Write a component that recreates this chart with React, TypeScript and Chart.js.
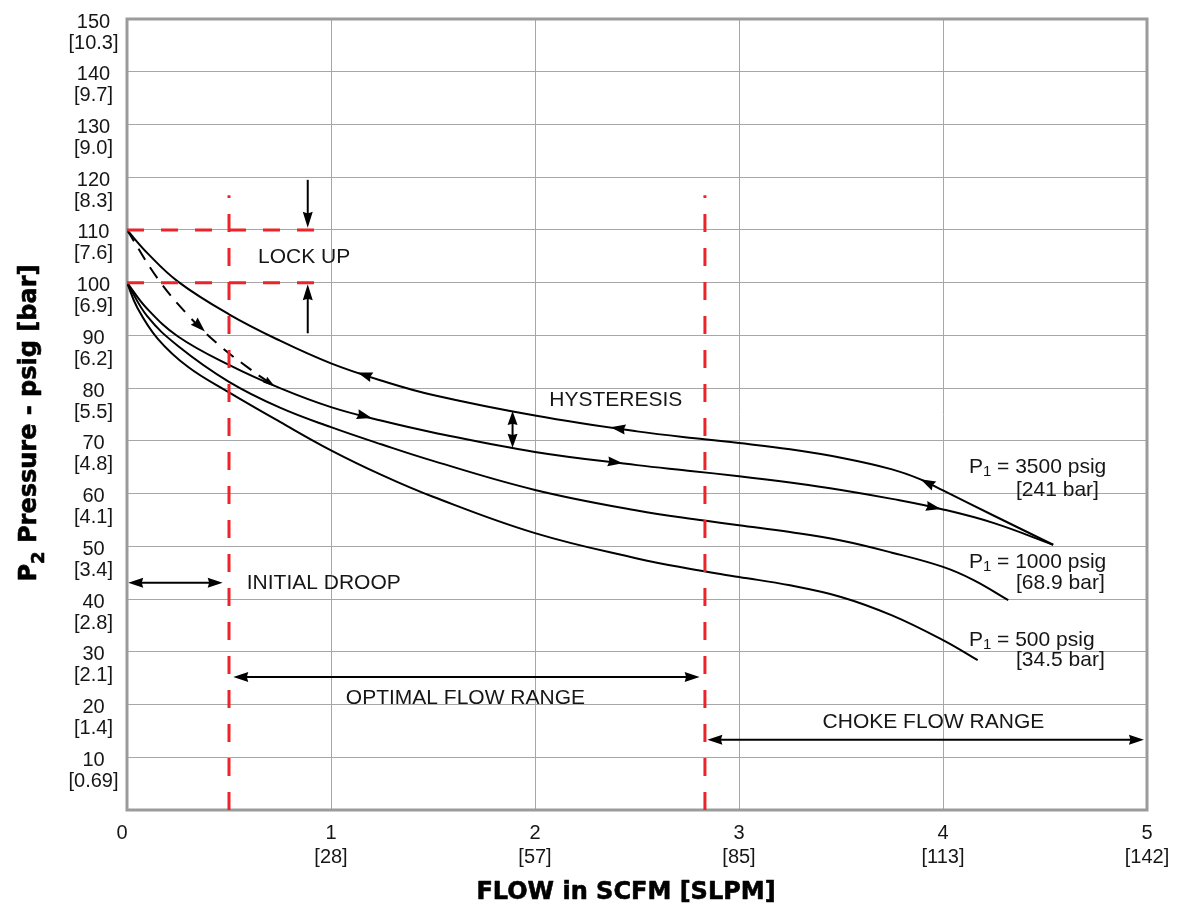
import { useEffect, useRef } from 'react';
import { Chart, registerables } from 'chart.js';

Chart.register(...registerables);

// ---------------- data ----------------
const X_TICK_VALUES = [0, 1, 2, 3, 4, 5];
const X_TICK_SCFM = ['0', '1', '2', '3', '4', '5'];
const X_TICK_SLPM = ['', '[28]', '[57]', '[85]', '[113]', '[142]'];

const Y_TICK_VALUES = [10, 20, 30, 40, 50, 60, 70, 80, 90, 100, 110, 120, 130, 140, 150];
const Y_TICK_BAR = ['[0.69]', '[1.4]', '[2.1]', '[2.8]', '[3.4]', '[4.1]', '[4.8]', '[5.5]', '[6.2]', '[6.9]', '[7.6]', '[8.3]', '[9.0]', '[9.7]', '[10.3]'];

// P1 = 3500 psig, decreasing-flow (return) branch
const RETURN_3500_X = [0, 0.1, 0.25, 0.5, 0.75, 1.0, 1.25, 1.5, 2.0, 2.5, 2.83, 3.0, 3.25, 3.5, 3.75, 3.89, 4.0, 4.25, 4.54];
const RETURN_3500_Y = [110, 105.6, 100.2, 94.0, 89.0, 84.7, 81.4, 78.7, 74.8, 71.8, 70.3, 69.6, 68.4, 66.8, 64.6, 62.7, 60.6, 55.8, 50.3];

// P1 = 3500 psig, increasing-flow (forward) branch
const FORWARD_3500_X = [0, 0.1, 0.25, 0.5, 0.75, 1.0, 1.25, 1.5, 2.0, 2.5, 2.75, 3.0, 3.25, 3.5, 3.75, 4.0, 4.25, 4.54];
const FORWARD_3500_Y = [100, 95.0, 89.8, 84.4, 80.0, 76.4, 73.8, 71.6, 67.9, 65.4, 64.35, 63.3, 62.1, 60.7, 59.0, 57.0, 54.4, 50.3];

// P1 = 1000 psig
const P1000_X = [0, 0.1, 0.25, 0.5, 0.75, 1.0, 1.25, 1.5, 2.0, 2.5, 2.83, 3.0, 3.25, 3.5, 3.75, 4.0, 4.15, 4.32];
const P1000_Y = [100, 93.6, 88.0, 81.2, 76.3, 72.6, 69.3, 66.2, 60.7, 56.8, 54.9, 54.0, 52.7, 51.1, 48.8, 46.1, 43.6, 39.8];

// P1 = 500 psig
const P500_X = [0, 0.05, 0.15, 0.3, 0.5, 0.75, 1.0, 1.25, 1.5, 2.0, 2.5, 2.75, 3.0, 3.25, 3.5, 3.75, 4.0, 4.17];
const P500_Y = [100, 95.3, 89.4, 84.0, 79.2, 73.6, 68.2, 63.5, 59.4, 52.5, 47.7, 45.8, 44.2, 42.6, 40.4, 36.9, 32.2, 28.4];

// dashed lock-up release path
const RELEASE_X = [0, 0.15, 0.3, 0.45, 0.6, 0.725];
const RELEASE_Y = [110, 100.8, 93.8, 88.2, 83.7, 80.3];

// reference (red dashed) lines
const LOCKUP_LEVELS = [110, 100];
const LOCKUP_FLOW_END = 0.917;
const FLOW_LIMITS = [0.5, 2.833];
const FLOW_LIMIT_TOP = 116.6;

// ---------------- styles / annotation layout ----------------
const RED = '#ec2329';
const GRID = '#a7a7a7';
const FRAME = '#9b9b9b';
const INK = '#161616';
const FONT = '"Liberation Sans", Arial, Helvetica, sans-serif';
const HEAVY = '"DejaVu Sans", "Liberation Sans", sans-serif';

const TEXT_LABELS = [
  { text: 'LOCK UP', x: 0.642, y: 104.9, align: 'left' },
  { text: 'HYSTERESIS', x: 2.07, y: 77.7, align: 'left' },
  { text: 'INITIAL DROOP', x: 0.587, y: 43.0, align: 'left' },
  { text: 'OPTIMAL FLOW RANGE', x: 1.659, y: 21.2, align: 'center' },
  { text: 'CHOKE FLOW RANGE', x: 3.953, y: 16.6, align: 'center' },
];

const P1_LABELS = [
  { rest: ' = 3500 psig', bar: '[241 bar]', x: 4.127, y: 65.0, xb: 4.358, yb: 60.7 },
  { rest: ' = 1000 psig', bar: '[68.9 bar]', x: 4.127, y: 47.0, xb: 4.358, yb: 43.0 },
  { rest: ' = 500 psig', bar: '[34.5 bar]', x: 4.127, y: 32.2, xb: 4.358, yb: 28.5 },
];

const DOUBLE_ARROWS = [
  { x1: 0.006, y1: 43.1, x2: 0.469, y2: 43.1 },
  { x1: 0.521, y1: 25.2, x2: 2.807, y2: 25.2 },
  { x1: 2.845, y1: 13.3, x2: 4.985, y2: 13.3 },
];

const SINGLE_ARROWS = [
  { x1: 0.886, y1: 119.5, x2: 0.886, y2: 110.4 },
  { x1: 0.886, y1: 90.4, x2: 0.886, y2: 99.7 },
];

const SERIES: Record<string, [number[], number[]]> = {
  ret: [RETURN_3500_X, RETURN_3500_Y],
  fwd: [FORWARD_3500_X, FORWARD_3500_Y],
  rel: [RELEASE_X, RELEASE_Y],
};

const CURVE_ARROWS = [
  { s: 'ret', x: 1.13, dir: -1, len: 15, hw: 5 },
  { s: 'ret', x: 2.37, dir: -1, len: 15, hw: 5 },
  { s: 'ret', x: 3.89, dir: -1, len: 15, hw: 5 },
  { s: 'fwd', x: 1.2, dir: 1, len: 15, hw: 5 },
  { s: 'fwd', x: 2.43, dir: 1, len: 15, hw: 5 },
  { s: 'fwd', x: 3.99, dir: 1, len: 15, hw: 5 },
  { s: 'rel', x: 0.382, dir: 1, len: 15, hw: 5 },
  { s: 'rel', x: 0.725, dir: 1, len: 12, hw: 3.5 },
];

const HYSTERESIS_FLOW = 1.89;

// ---------------- helpers ----------------
function pts(xs: number[], ys: number[]) {
  return xs.map((x, i) => ({ x, y: ys[i] }));
}

function interp(xs: number[], ys: number[], x: number) {
  for (let i = 0; i < xs.length - 1; i++) {
    if (x <= xs[i + 1]) {
      return ys[i] + ((ys[i + 1] - ys[i]) * (x - xs[i])) / (xs[i + 1] - xs[i]);
    }
  }
  return ys[ys.length - 1];
}

function head(ctx: CanvasRenderingContext2D, tx: number, ty: number, ang: number, len: number, hw: number) {
  ctx.save();
  ctx.translate(tx, ty);
  ctx.rotate(ang);
  ctx.beginPath();
  ctx.moveTo(0, 0);
  ctx.lineTo(-len, -hw);
  ctx.lineTo(-len * 0.9, 0);
  ctx.lineTo(-len, hw);
  ctx.closePath();
  ctx.fill();
  ctx.restore();
}

function heavyText(ctx: CanvasRenderingContext2D, s: string, x: number, y: number) {
  ctx.fillText(s, x, y);
  ctx.strokeText(s, x, y);
}

const decorPlugin = {
  id: 'decor',
  beforeDatasetsDraw(chart: any) {
    const { ctx, chartArea: a } = chart;
    ctx.save();
    ctx.strokeStyle = FRAME;
    ctx.lineWidth = 3;
    ctx.strokeRect(a.left, a.top, a.right - a.left, a.bottom - a.top);
    ctx.restore();
  },
  afterDatasetsDraw(chart: any) {
    const { ctx, chartArea: a } = chart;
    const xs = chart.scales.x;
    const ys = chart.scales.y;
    const px = (v: number) => xs.getPixelForValue(v);
    const py = (v: number) => ys.getPixelForValue(v);

    ctx.save();
    ctx.fillStyle = '#000';
    ctx.strokeStyle = '#000';
    ctx.lineWidth = 2;

    // arrowheads along curves
    CURVE_ARROWS.forEach((ar) => {
      const [sx, sy] = SERIES[ar.s];
      const tx = px(ar.x), ty = py(interp(sx, sy, ar.x));
      const bx = ar.x - ar.dir * 0.04;
      const ux = px(bx), uy = py(interp(sx, sy, bx));
      head(ctx, tx, ty, Math.atan2(ty - uy, tx - ux), ar.len, ar.hw);
    });

    // double arrows (horizontal ranges)
    DOUBLE_ARROWS.forEach((d) => {
      const x1 = px(d.x1), y1 = py(d.y1), x2 = px(d.x2), y2 = py(d.y2);
      ctx.beginPath();
      ctx.moveTo(x1 + 6, y1);
      ctx.lineTo(x2 - 6, y2);
      ctx.stroke();
      const ang = Math.atan2(y2 - y1, x2 - x1);
      head(ctx, x2, y2, ang, 15, 5);
      head(ctx, x1, y1, ang + Math.PI, 15, 5);
    });

    // hysteresis double arrow
    {
      const x = px(HYSTERESIS_FLOW);
      const yTop = py(interp(RETURN_3500_X, RETURN_3500_Y, HYSTERESIS_FLOW));
      const yBot = py(interp(FORWARD_3500_X, FORWARD_3500_Y, HYSTERESIS_FLOW));
      ctx.beginPath();
      ctx.moveTo(x, yTop + 6);
      ctx.lineTo(x, yBot - 6);
      ctx.stroke();
      head(ctx, x, yTop, -Math.PI / 2, 14, 5);
      head(ctx, x, yBot, Math.PI / 2, 14, 5);
    }

    // lock-up single arrows
    SINGLE_ARROWS.forEach((s) => {
      const x1 = px(s.x1), y1 = py(s.y1), x2 = px(s.x2), y2 = py(s.y2);
      ctx.beginPath();
      ctx.moveTo(x1, y1);
      ctx.lineTo(x2, y2 + (y1 > y2 ? 6 : -6));
      ctx.stroke();
      head(ctx, x2, y2, Math.atan2(y2 - y1, x2 - x1), 16, 5);
    });

    // annotation texts
    ctx.fillStyle = INK;
    ctx.textBaseline = 'middle';
    ctx.font = `21px ${FONT}`;
    TEXT_LABELS.forEach((t) => {
      ctx.textAlign = t.align as CanvasTextAlign;
      ctx.fillText(t.text, px(t.x), py(t.y));
    });

    // P1 labels with subscript
    P1_LABELS.forEach((l) => {
      let x = px(l.x);
      const y = py(l.y);
      ctx.textAlign = 'left';
      ctx.font = `21px ${FONT}`;
      ctx.fillText('P', x, y);
      x += ctx.measureText('P').width;
      ctx.font = `15px ${FONT}`;
      ctx.fillText('1', x, y + 5);
      x += ctx.measureText('1').width;
      ctx.font = `21px ${FONT}`;
      ctx.fillText(l.rest, x, y);
      ctx.fillText(l.bar, px(l.xb), py(l.yb));
    });

    // y tick labels (two lines)
    ctx.font = `20px ${FONT}`;
    ctx.textAlign = 'center';
    Y_TICK_VALUES.forEach((v, i) => {
      const y = py(v);
      ctx.fillText(String(v), a.left - 33.5, y + 3);
      ctx.fillText(Y_TICK_BAR[i], a.left - 33.5, y + 24);
    });

    // x tick labels (two lines)
    X_TICK_VALUES.forEach((v, i) => {
      const x = px(v) - (v === 0 ? 5 : 0);
      ctx.fillText(X_TICK_SCFM[i], x, a.bottom + 23);
      if (X_TICK_SLPM[i]) ctx.fillText(X_TICK_SLPM[i], x, a.bottom + 47);
    });

    // x axis title
    ctx.font = `bold 24px ${HEAVY}`;
    ctx.textBaseline = 'alphabetic';
    ctx.textAlign = 'center';
    ctx.fillStyle = '#000';
    ctx.strokeStyle = '#000';
    ctx.lineWidth = 0.6;
    ctx.lineJoin = 'round';
    heavyText(ctx, 'FLOW in SCFM [SLPM]', 626, a.bottom + 89);

    // y axis title (rotated, with subscript)
    ctx.save();
    ctx.translate(36, 423);
    ctx.rotate(-Math.PI / 2);
    ctx.textAlign = 'left';
    ctx.font = `bold 24px ${HEAVY}`;
    const wP = ctx.measureText('P').width;
    const rest = ' Pressure - psig [bar]';
    const wRest = ctx.measureText(rest).width;
    ctx.font = `bold 18px ${HEAVY}`;
    const wSub = ctx.measureText('2').width;
    let lx = -(wP + wSub + wRest) / 2;
    ctx.font = `bold 24px ${HEAVY}`;
    heavyText(ctx, 'P', lx, 0);
    lx += wP;
    ctx.font = `bold 18px ${HEAVY}`;
    heavyText(ctx, '2', lx, 8);
    lx += wSub;
    ctx.font = `bold 24px ${HEAVY}`;
    heavyText(ctx, rest, lx, 0);
    ctx.restore();

    ctx.restore();
  },
};

const curveStyle = {
  borderColor: '#000',
  borderWidth: 2,
  pointRadius: 0,
  fill: false,
  tension: 0.4,
  order: 2,
};

const redStyle = {
  borderColor: RED,
  borderWidth: 3,
  pointRadius: 0,
  fill: false,
  tension: 0,
  order: 0,
};

export default function App() {
  const ref = useRef<HTMLCanvasElement | null>(null);

  useEffect(() => {
    const canvas = ref.current;
    if (!canvas) return;

    const datasets: any[] = [
      ...FLOW_LIMITS.map((f) => ({
        ...redStyle,
        label: `limit ${f}`,
        borderDash: [18, 16],
        data: [{ x: f, y: 0 }, { x: f, y: FLOW_LIMIT_TOP }],
      })),
      ...LOCKUP_LEVELS.map((lv) => ({
        ...redStyle,
        label: `lockup ${lv}`,
        borderDash: [17, 17],
        data: [{ x: 0, y: lv }, { x: LOCKUP_FLOW_END, y: lv }],
      })),
      { ...curveStyle, label: 'P1 3500 return', data: pts(RETURN_3500_X, RETURN_3500_Y) },
      { ...curveStyle, label: 'P1 3500 forward', data: pts(FORWARD_3500_X, FORWARD_3500_Y) },
      { ...curveStyle, label: 'P1 1000', data: pts(P1000_X, P1000_Y) },
      { ...curveStyle, label: 'P1 500', data: pts(P500_X, P500_Y) },
      { ...curveStyle, label: 'release', borderDash: [13, 9], data: pts(RELEASE_X, RELEASE_Y) },
    ];

    const chart = new Chart(canvas, {
      type: 'line',
      data: { datasets },
      options: {
        responsive: false,
        animation: false,
        devicePixelRatio: 1,
        events: [],
        layout: { padding: { left: 127, top: 19, right: 33, bottom: 97 } },
        plugins: {
          legend: { display: false },
          tooltip: { enabled: false },
          title: { display: false },
        },
        scales: {
          x: {
            type: 'linear',
            min: 0,
            max: 5,
            ticks: { display: false, stepSize: 1 },
            grid: { color: GRID, lineWidth: 1, drawTicks: false },
            border: { display: false },
          },
          y: {
            type: 'linear',
            min: 0,
            max: 150,
            ticks: { display: false, stepSize: 10 },
            grid: { color: GRID, lineWidth: 1, drawTicks: false },
            border: { display: false },
          },
        },
      } as any,
      plugins: [decorPlugin],
    });

    return () => chart.destroy();
  }, []);

  return (
    <div style={{ position: 'fixed', left: 0, top: 0, width: 1180, height: 907, background: '#fff' }}>
      <canvas ref={ref} width={1180} height={907} style={{ display: 'block' }} />
    </div>
  );
}
